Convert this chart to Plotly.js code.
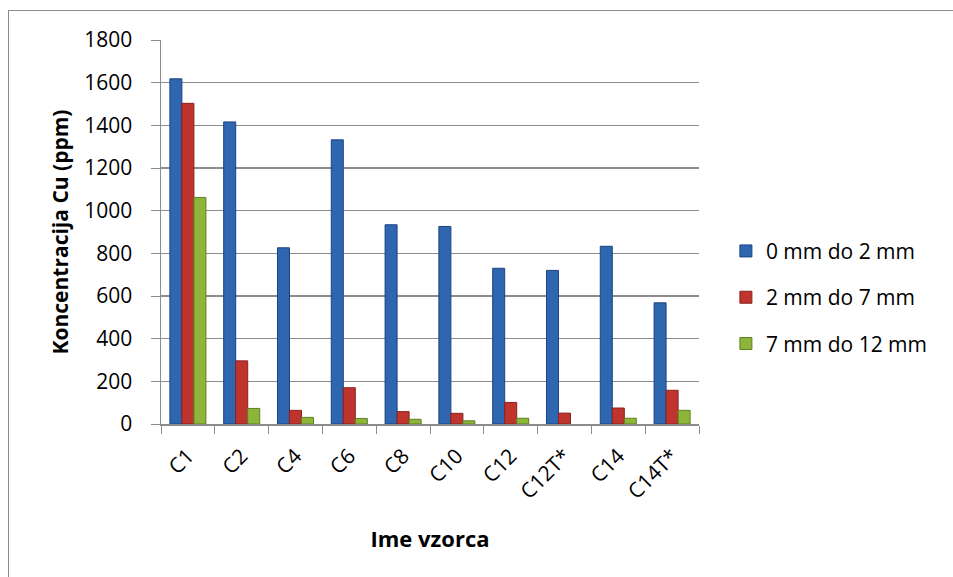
<!DOCTYPE html>
<html>
<head>
<meta charset="utf-8">
<script src="https://cdn.plot.ly/plotly-3.0.1.min.js"></script>
<style>
  html, body { margin: 0; padding: 0; background: #ffffff; }
  #chart { width: 953px; height: 577px; }
  #frame {
    position: absolute; left: 8px; top: 10px; right: 0; bottom: 0;
    border-left: 1px solid #8c8c8c; border-top: 1px solid #8c8c8c;
    pointer-events: none;
  }
</style>
</head>
<body>
<div id="chart"></div>
<div id="frame"></div>
<script>
// Sample names (x categories)
const samples = ['C1', 'C2', 'C4', 'C6', 'C8', 'C10', 'C12', 'C12T*', 'C14', 'C14T*'];

// Cu concentration (ppm) per depth layer
const layerNames = ['0 mm do 2 mm', '2 mm do 7 mm', '7 mm do 12 mm'];
const cu0to2  = [1618, 1416, 826, 1332, 934, 926, 730, 720, 833, 568];
const cu2to7  = [1503, 296, 64, 170, 58, 50, 101, 51, 75, 158];
const cu7to12 = [1062, 73, 31, 26, 22, 15, 27, 0, 27, 64];

const yTicks = [0, 200, 400, 600, 800, 1000, 1200, 1400, 1600, 1800];

const fills = ['#2f66b0', '#c0342e', '#8cb53a'];
const edges = ['#1d4380', '#8a2320', '#5f7f22'];
const series = [cu0to2, cu2to7, cu7to12];

const traces = series.map((vals, i) => ({
  type: 'bar',
  name: layerNames[i],
  legendgroup: 'g' + i,
  x: samples,
  y: vals,
  marker: {
    color: fills[i],
    // no outline on empty bars so they stay invisible
    line: { color: edges[i], width: vals.map(v => (v > 0 ? 1 : 0)) }
  },
  hoverinfo: 'x+y+name'
}));

const font = 'Open Sans, Liberation Sans, sans-serif';

const layout = {
  width: 953,
  height: 577,
  margin: { l: 161, r: 254, t: 40, b: 153 },
  paper_bgcolor: '#ffffff',
  plot_bgcolor: '#ffffff',
  barmode: 'group',
  bargap: 0.33,
  bargroupgap: 0,
  font: { family: font, color: '#000000', size: 21 },
  showlegend: true,
  legend: {
    x: 1.05, xanchor: 'left',
    y: 0.33, yanchor: 'middle',
    font: { family: font, size: 21, color: '#000000' },
    tracegroupgap: 16,
    itemwidth: 30,
    bgcolor: 'rgba(0,0,0,0)'
  },
  xaxis: {
    type: 'category',
    tickangle: -45,
    tickfont: { family: font, size: 21, color: '#000000' },
    ticks: 'outside',
    tickson: 'boundaries',
    ticklen: 8,
    tickcolor: '#8c8c8c',
    ticklabelstandoff: 10,
    showline: true,
    linecolor: '#8c8c8c',
    linewidth: 1.5,
    showgrid: false,
    title: { text: '<b>Ime vzorca</b>', font: { family: font, size: 22, color: '#000000' }, standoff: 28 }
  },
  yaxis: {
    range: [0, 1800],
    tickvals: yTicks,
    ticktext: yTicks.map(String),
    tickfont: { family: font, size: 21, color: '#000000' },
    ticks: 'outside',
    ticklen: 9,
    tickcolor: '#8c8c8c',
    ticklabelstandoff: 14,
    showline: true,
    linecolor: '#8c8c8c',
    linewidth: 1.5,
    showgrid: true,
    gridcolor: '#8c8c8c',
    gridwidth: 1.5,
    zeroline: false,
    title: { text: '<b>Koncentracija Cu (ppm)</b>', font: { family: font, size: 21, color: '#000000' }, standoff: 10 }
  }
};

Plotly.newPlot('chart', traces, layout, { displayModeBar: false, staticPlot: true });
</script>
</body>
</html>
